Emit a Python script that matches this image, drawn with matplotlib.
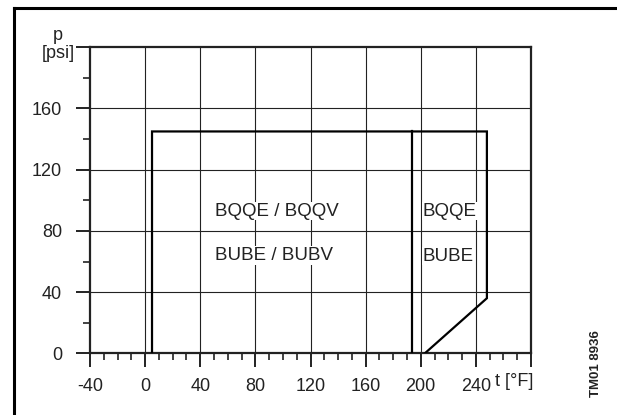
import matplotlib
matplotlib.use("Agg")
import matplotlib.pyplot as plt
from matplotlib.lines import Line2D
import numpy as np

plt.rcParams['font.family'] = ['Liberation Sans', 'DejaVu Sans']

# ---- data ----
x_ticks = [-40, 0, 40, 80, 120, 160, 200, 240, 280]
x_labels = ["-40", "0", "40", "80", "120", "160", "200", "240", ""]
y_ticks = [0, 40, 80, 120, 160, 200]
y_labels = ["0", "40", "80", "120", "160", ""]

# BQQE/BQQV + BUBE/BUBV range and BQQE/BUBE range (outer outline)
outline_t = [5, 5, 248, 248, 203]
outline_p = [0, 145, 145, 36, 0]
# divider between the two ranges
divider_t = [194, 194]
divider_p = [0, 145]

labels = ["BQQE / BQQV", "BUBE / BUBV", "BQQE", "BUBE"]
label_t = [51, 51, 201.5, 201.5]
label_p = [90, 61, 90, 60.5]

W, H = 617, 415
fig = plt.figure(figsize=(W / 100, H / 100), dpi=100)
ax = fig.add_axes([90 / W, (H - 353.3) / H, (531 - 90) / W, (353.3 - 47.3) / H])
ax.set_xlim(-40, 280)
ax.set_ylim(0, 200)

gc = '#222222'
for t in x_ticks[1:-1]:
    ax.plot([t, t], [0, 200], color=gc, lw=0.8, zorder=1)
for p in y_ticks[1:-1]:
    ax.plot([-40, 280], [p, p], color=gc, lw=0.8, zorder=1)

ax.plot(outline_t, outline_p, color='black', lw=1.6, zorder=3, solid_joinstyle='miter')
ax.plot(divider_t, divider_p, color='black', lw=1.6, zorder=3)

for s, t, p in zip(labels, label_t, label_p):
    ax.text(t, p, s, fontsize=13.5, ha='left', va='baseline', color='#222222', zorder=4,
            bbox=dict(facecolor='white', edgecolor='none', pad=0.5))

for sp in ax.spines.values():
    sp.set_linewidth(1.6)
    sp.set_color('#222222')

ax.set_xticks(x_ticks)
ax.set_xticklabels(x_labels)
ax.set_xticks(np.arange(-40, 281, 10), minor=True)
ax.set_yticks(y_ticks)
ax.set_yticklabels(y_labels)
ax.set_yticks(np.arange(20, 200, 40), minor=True)
ax.tick_params(axis='both', which='major', length=10, width=1.4, color='#222222',
               labelsize=13, labelcolor='#222222')
ax.tick_params(axis='both', which='minor', length=5, width=1.2, color='#222222')
ax.tick_params(axis='x', which='major', pad=8)
ax.tick_params(axis='y', which='major', pad=10)

# axis unit labels
fig.text(58 / W, 1 - 36 / H, "p", fontsize=13, ha='center', va='center', color='#222222')
fig.text(58 / W, 1 - 53 / H, "[psi]", fontsize=13, ha='center', va='center', color='#222222')
ax.text(281.5, -13, "t [°F]", fontsize=13, ha='right', va='top', color='#222222',
        transform=ax.transData, clip_on=False)

# drawing code
fig.text(596 / W, 1 - 364 / H, "TM01 8936", fontsize=9.5, rotation=90, fontweight='bold',
         ha='center', va='center', color='#222222')

# outer frame
fig.add_artist(Line2D([14 / W, 14 / W], [0, 1 - 8 / H], transform=fig.transFigure,
                      color='black', lw=2.2))
fig.add_artist(Line2D([14 / W, 1], [1 - 8 / H, 1 - 8 / H], transform=fig.transFigure,
                      color='black', lw=2.2))

fig.savefig("out.png", dpi=100)
